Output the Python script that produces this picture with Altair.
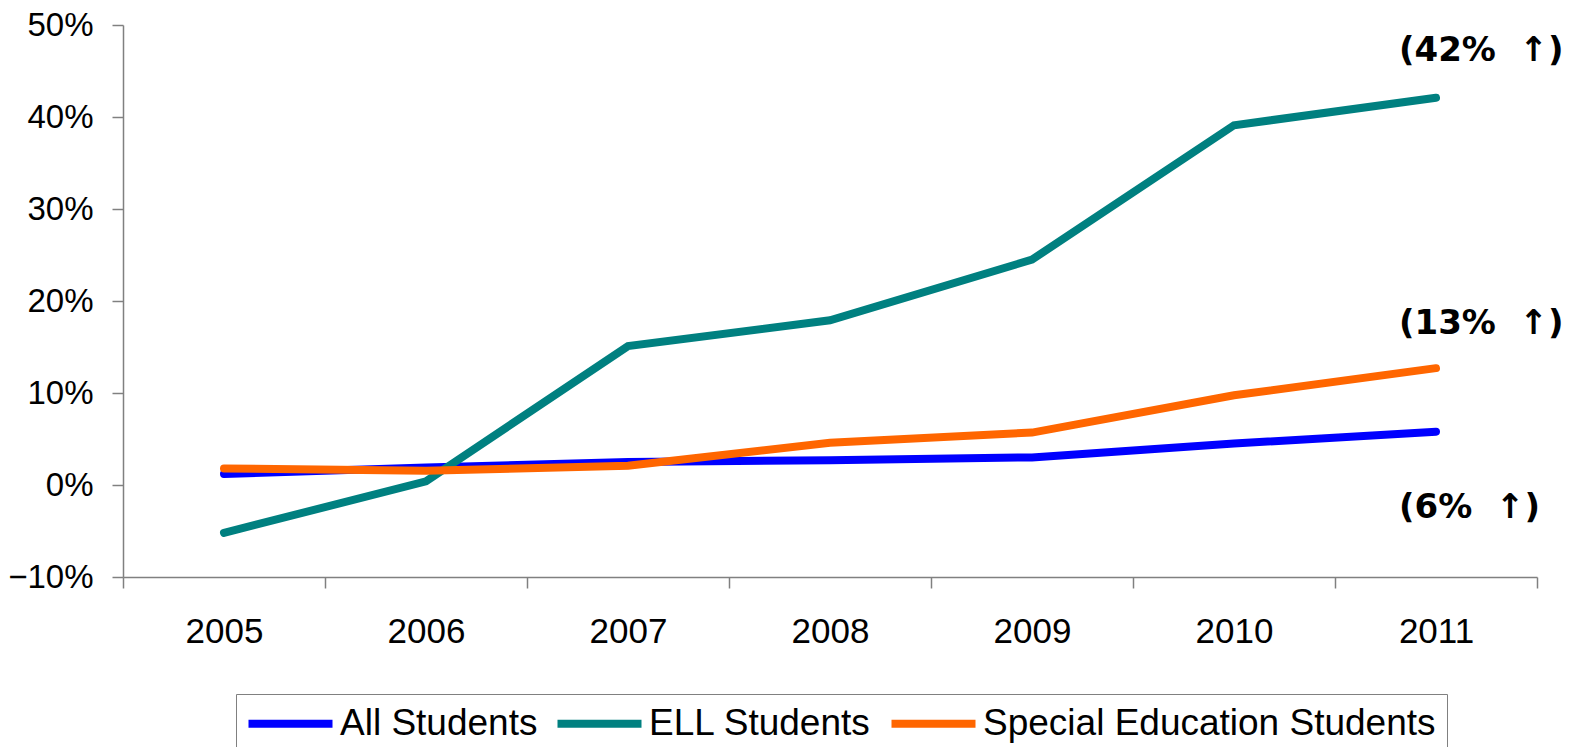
import altair as alt
import pandas as pd

years = ["2005", "2006", "2007", "2008", "2009", "2010", "2011"]
series_names = ["All Students", "ELL Students", "Special Education Students"]
all_students = [1.2, 1.9, 2.5, 2.7, 3.0, 4.5, 5.8]
ell_students = [-5.2, 0.4, 15.1, 17.9, 24.5, 39.1, 42.1]
sped_students = [1.8, 1.55, 2.1, 4.6, 5.7, 9.75, 12.7]
series_colors = ["#0000FF", "#008080", "#FF6600"]

note_texts = ["(42%\u00a0\u00a0\u2191)", "(13%\u00a0\u00a0\u2191)", "(6%\u00a0\u00a0\u2191)"]
note_year = ["2011", "2011", "2011"]
note_pos = [47.2, 17.5, -2.5]

rows = []
for name, vals in zip(series_names, [all_students, ell_students, sped_students]):
    for y, v in zip(years, vals):
        rows.append({"year": y, "series": name, "value": v / 100.0})
df = pd.DataFrame(rows)

notes = pd.DataFrame({"year": note_year, "value": [p / 100.0 for p in note_pos], "label": note_texts})

FONT = "Liberation Sans"

x_enc = alt.X(
    "year:O",
    sort=years,
    bandPosition=0.5,
    scale=alt.Scale(type="band", domain=years, paddingInner=0, paddingOuter=0),
    axis=alt.Axis(
        title=None,
        labelAngle=0,
        tickBand="extent",
        tickSize=11,
        labelPadding=26,
        labelFont=FONT,
        labelFontSize=35,
        labelColor="black",
        domainColor="#808080",
        tickColor="#808080",
        domainWidth=1.5,
        tickWidth=1.5,
        grid=False,
    ),
)

y_scale = alt.Scale(domain=[-0.1, 0.5], nice=False, zero=False)

lines = alt.Chart(df).mark_line(strokeWidth=8, strokeCap="round", strokeJoin="miter").encode(
    x=x_enc,
    y=alt.Y(
        "value:Q",
        scale=y_scale,
        axis=alt.Axis(
            title=None,
            format=".0%",
            values=[-0.1, 0.0, 0.1, 0.2, 0.3, 0.4, 0.5],
            tickSize=11,
            labelPadding=19,
            labelFont=FONT,
            labelFontSize=33,
            labelColor="black",
            domainColor="#808080",
            tickColor="#808080",
            domainWidth=1.5,
            tickWidth=1.5,
            grid=False,
        ),
    ),
    color=alt.Color(
        "series:N",
        sort=series_names,
        scale=alt.Scale(domain=series_names, range=series_colors),
        legend=alt.Legend(
            title=None,
            orient="none",
            legendX=113,
            legendY=669,
            direction="horizontal",
            symbolType="M-4,0L4,0",
            symbolSize=441,
            symbolStrokeWidth=8,
            symbolOffset=25,
            labelFont=FONT,
            labelFontSize=37,
            labelColor="black",
            labelLimit=600,
            labelOffset=31,
            columnPadding=3,
            padding=11,
            strokeColor="#808080",
        ),
    ),
)

texts = alt.Chart(notes).mark_text(
    align="left", baseline="middle", dx=-37, font="DejaVu Sans", fontWeight="bold", fontSize=34, color="black"
).encode(
    x=alt.X("year:O", sort=years, bandPosition=0.5),
    y=alt.Y("value:Q", scale=y_scale),
    text="label:N",
)

chart = alt.layer(lines, texts).properties(
    width=1414,
    height=552,
    padding={"left": 115, "top": 17, "right": 31, "bottom": 170},
    autosize=alt.AutoSizeParams(type="none"),
).configure_view(strokeWidth=0)

chart.save("out.html", embed_options={"renderer": "svg", "actions": False})
